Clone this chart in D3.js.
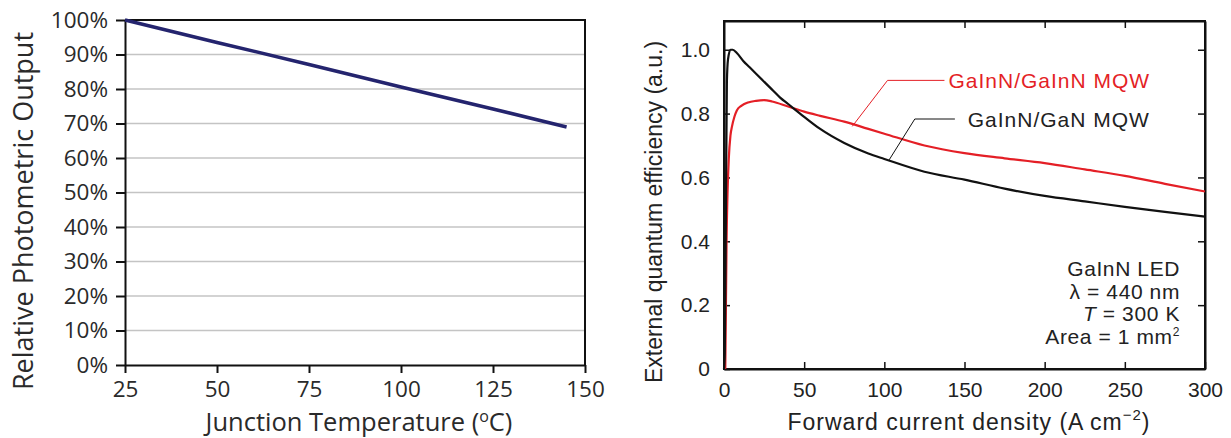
<!DOCTYPE html>
<html>
<head>
<meta charset="utf-8">
<script src="https://cdn.jsdelivr.net/npm/d3@7"></script>
<style>
  body { margin: 0; background: #fff; }
  svg { display: block; }
</style>
</head>
<body>
<svg id="chart" width="1231" height="438"></svg>
<script>
// left panel : light output vs junction temperature
var tempC = [25, 50, 75, 100, 125, 145];
var relOutput = [1.00, 0.935, 0.871, 0.806, 0.742, 0.69];
var tempTicks = [25, 50, 75, 100, 125, 150];
var outputTicks = [0, .1, .2, .3, .4, .5, .6, .7, .8, .9, 1];

// right panel : EQE vs forward current density
var currentJ = [0, 0.5, 1.2, 1.8, 2.5, 4, 5.5, 8, 12, 16, 20, 25, 30, 35, 40, 50, 60, 75, 90, 100, 125, 150, 175, 200, 225, 250, 275, 300];
var eqeGaN = [0, 0.05, 0.5, 0.9, 0.97, 1.0, 1.0, 0.99, 0.965, 0.945, 0.925, 0.9, 0.875, 0.85, 0.83, 0.79, 0.752, 0.708, 0.675, 0.658, 0.618, 0.593, 0.565, 0.542, 0.525, 0.508, 0.492, 0.477];
var currentJ2 = [0.8, 1.2, 1.6, 2.2, 3, 4, 5, 6.5, 8, 11, 15, 20, 25, 30, 40, 50, 60, 75, 90, 100, 125, 150, 175, 200, 225, 250, 275, 300];
var eqeGaInN = [0, 0.2, 0.4, 0.55, 0.66, 0.73, 0.76, 0.79, 0.81, 0.825, 0.835, 0.84, 0.842, 0.838, 0.822, 0.806, 0.793, 0.775, 0.752, 0.737, 0.7, 0.676, 0.66, 0.645, 0.625, 0.605, 0.58, 0.556];
var jTicks = [0, 50, 100, 150, 200, 250, 300];
var eqeTicks = [0, 0.2, 0.4, 0.6, 0.8, 1.0];
var infoLines = ["GaInN LED", "λ = 440 nm", "T = 300 K", "Area = 1 mm"];

var svg = d3.select("#chart");

// ---------- left chart ----------
var leftFont = "'Open Sans', sans-serif";
var x1 = d3.scaleLinear().domain([25, 150]).range([125, 585]);
var y1 = d3.scaleLinear().domain([0, 1]).range([365, 20]);

var left = svg.append("g");

left.append("g")
  .selectAll("line")
  .data(outputTicks.filter(function(d) { return d > 0 && d < 1; }))
  .enter().append("line")
  .attr("x1", x1.range()[0]).attr("x2", x1.range()[1])
  .attr("y1", function(d) { return y1(d); })
  .attr("y2", function(d) { return y1(d); })
  .attr("stroke", "#c4c4c4").attr("stroke-width", 1.6);

// frame top / right
left.append("path")
  .attr("d", "M" + x1.range()[0] + "," + y1(1) + "H" + x1.range()[1] + "V" + y1(0))
  .attr("fill", "none").attr("stroke", "#111").attr("stroke-width", 2);

var ax1 = left.append("g")
  .attr("transform", "translate(" + x1.range()[0] + ",0)")
  .call(d3.axisLeft(y1).tickValues(outputTicks).tickFormat(d3.format(".0%")).tickSize(9).tickSizeOuter(0).tickPadding(8));

var bx1 = left.append("g")
  .attr("transform", "translate(0," + y1(0) + ")")
  .call(d3.axisBottom(x1).tickValues(tempTicks).tickSize(8).tickSizeOuter(0).tickPadding(8));

[ax1, bx1].forEach(function(a) {
  a.select(".domain").attr("stroke", "#111").attr("stroke-width", 2);
  a.selectAll(".tick line").attr("stroke", "#111").attr("stroke-width", 2);
  a.selectAll("text").attr("font-family", leftFont).attr("font-size", 22.5).attr("fill", "#2a2a2a");
});

left.append("path")
  .datum(tempC.map(function(t, i) { return [t, relOutput[i]]; }))
  .attr("fill", "none")
  .attr("stroke", "#24246e")
  .attr("stroke-width", 3.5)
  .attr("d", d3.line().x(function(d) { return x1(d[0]); }).y(function(d) { return y1(d[1]); }));

left.append("text")
  .attr("transform", "translate(33,211) rotate(-90)")
  .attr("text-anchor", "middle")
  .attr("font-family", leftFont).attr("font-size", 27).attr("fill", "#2a2a2a")
  .text("Relative Photometric Output");

var xl1 = left.append("text")
  .attr("x", 359)
  .attr("y", 431)
  .attr("text-anchor", "middle")
  .attr("font-family", leftFont).attr("font-size", 25.5).attr("fill", "#2a2a2a");
xl1.append("tspan").text("Junction Temperature (");
xl1.append("tspan").attr("font-size", 16).attr("dy", -9).text("o");
xl1.append("tspan").attr("dy", 9).text("C)");

// ---------- right chart ----------
var rightFont = "'Liberation Sans', Arial, sans-serif";
var x2 = d3.scaleLinear().domain([0, 300]).range([724, 1205]);
var y2 = d3.scaleLinear().domain([0, 1.09]).range([369, 21]);

var right = svg.append("g");

right.append("rect")
  .attr("x", x2(0)).attr("y", y2(1.09))
  .attr("width", x2(300) - x2(0)).attr("height", y2(0) - y2(1.09))
  .attr("fill", "none").attr("stroke", "#111").attr("stroke-width", 2);

var ax2 = right.append("g")
  .attr("transform", "translate(" + x2(0) + ",0)")
  .call(d3.axisLeft(y2).tickValues(eqeTicks).tickFormat(function(d) { return d === 0 ? "0" : d3.format(".1f")(d); }).tickSize(-6).tickSizeOuter(0).tickPadding(14));
var bx2 = right.append("g")
  .attr("transform", "translate(0," + y2(0) + ")")
  .call(d3.axisBottom(x2).tickValues(jTicks).tickSize(-7).tickSizeOuter(0).tickPadding(13));
var tx2 = right.append("g")
  .attr("transform", "translate(0," + y2(1.09) + ")")
  .call(d3.axisTop(x2).tickValues(jTicks.slice(1, -1)).tickSize(-7).tickSizeOuter(0).tickFormat(""));
var ry2 = right.append("g")
  .attr("transform", "translate(" + x2(300) + ",0)")
  .call(d3.axisRight(y2).tickValues(eqeTicks.slice(1)).tickSize(-7).tickSizeOuter(0).tickFormat(""));

[ax2, bx2, tx2, ry2].forEach(function(a) {
  a.select(".domain").attr("stroke", "#111").attr("stroke-width", 2);
  a.selectAll(".tick line").attr("stroke", "#111").attr("stroke-width", 1.5);
  a.selectAll("text").attr("font-family", rightFont).attr("font-size", 21).attr("fill", "#222");
});

var line2 = d3.line()
  .curve(d3.curveMonotoneX)
  .x(function(d) { return x2(d[0]); })
  .y(function(d) { return y2(d[1]); });

right.append("path")
  .datum(currentJ2.map(function(j, i) { return [j, eqeGaInN[i]]; }))
  .attr("fill", "none").attr("stroke", "#e41f26").attr("stroke-width", 2.2)
  .attr("d", line2);

right.append("path")
  .datum(currentJ.map(function(j, i) { return [j, eqeGaN[i]]; }))
  .attr("fill", "none").attr("stroke", "#111").attr("stroke-width", 2.2)
  .attr("d", line2);

// leader lines + series labels
var leaderRed = [[80, 0.76], [102, 0.904], [137.5, 0.904]];
var leaderBlack = [[103, 0.655], [119, 0.783], [144, 0.783]];
var plain = d3.line().x(function(d) { return x2(d[0]); }).y(function(d) { return y2(d[1]); });

right.append("path").datum(leaderRed).attr("d", plain)
  .attr("fill", "none").attr("stroke", "#e41f26").attr("stroke-width", 1);
right.append("path").datum(leaderBlack).attr("d", plain)
  .attr("fill", "none").attr("stroke", "#111").attr("stroke-width", 1);

right.append("text")
  .attr("x", x2(140)).attr("y", y2(0.904) + 8)
  .attr("font-family", rightFont).attr("font-size", 21).attr("letter-spacing", 1).attr("fill", "#e41f26")
  .text("GaInN/GaInN MQW");
right.append("text")
  .attr("x", x2(152)).attr("y", y2(0.783) + 8)
  .attr("font-family", rightFont).attr("font-size", 21).attr("letter-spacing", 1).attr("fill", "#222")
  .text("GaInN/GaN MQW");

// device info block
var info = right.append("g")
  .attr("font-family", rightFont).attr("font-size", 21).attr("letter-spacing", 0.6).attr("fill", "#222")
  .attr("text-anchor", "end");
infoLines.forEach(function(s, i) {
  var t = info.append("text").attr("x", 1180).attr("y", 276 + i * 22.5);
  if (s.charAt(0) === "T") {
    t.append("tspan").attr("font-style", "italic").text("T");
    t.append("tspan").text(s.slice(1));
  } else if (i === infoLines.length - 1) {
    t.append("tspan").text(s);
    t.append("tspan").attr("font-size", 12).attr("dy", -8).text("2");
  } else {
    t.text(s);
  }
});

right.append("text")
  .attr("transform", "translate(662,212) rotate(-90)")
  .attr("text-anchor", "middle")
  .attr("font-family", rightFont).attr("font-size", 23).attr("fill", "#222")
  .text("External quantum efficiency (a.u.)");

var xl2 = right.append("text")
  .attr("x", 969)
  .attr("y", 430)
  .attr("text-anchor", "middle")
  .attr("font-family", rightFont).attr("font-size", 23).attr("letter-spacing", 1).attr("fill", "#222");
xl2.append("tspan").text("Forward current density (A\u2009cm");
xl2.append("tspan").attr("font-size", 15).attr("dy", -10).text("\u22122");
xl2.append("tspan").attr("dy", 10).text(")");
</script>
</body>
</html>
